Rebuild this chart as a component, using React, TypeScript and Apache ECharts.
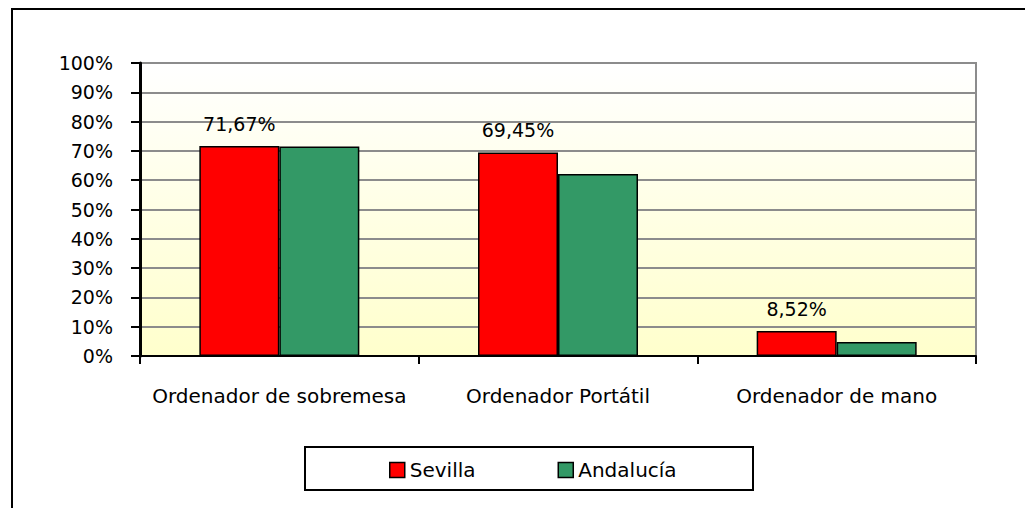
import React, { useEffect, useRef } from "react";
import * as echarts from "echarts";

const categories = ["Ordenador de sobremesa", "Ordenador Portátil", "Ordenador de mano"];
const sevilla = [71.67, 69.45, 8.52];
const andalucia = [71.5, 62.1, 4.8];
const seriesNames = ["Sevilla", "Andalucía"];

const FONT = "DejaVu Sans";

export default function App() {
  const ref = useRef<HTMLDivElement>(null);
  useEffect(() => {
    if (!ref.current) return;
    const chart = echarts.init(ref.current, null, { renderer: "svg" });
    chart.setOption({
      animation: false,
      backgroundColor: "#ffffff",
      textStyle: { fontFamily: FONT },
      graphic: [
        {
          type: "rect",
          shape: { x: 12, y: 9, width: 1030, height: 520 },
          style: { fill: "none", stroke: "#000", lineWidth: 2 },
          z: 10,
        },
        {
          type: "rect",
          shape: { x: 305, y: 447, width: 448, height: 43 },
          style: { fill: "none", stroke: "#000", lineWidth: 2 },
          z: 10,
        },
      ],
      grid: {
        left: 140,
        top: 63,
        width: 836,
        height: 293,
        show: true,
        borderColor: "#8c8c8c",
        borderWidth: 2,
        backgroundColor: {
          type: "linear",
          x: 0,
          y: 0,
          x2: 0,
          y2: 1,
          colorStops: [
            { offset: 0, color: "#ffffff" },
            { offset: 1, color: "#ffffcc" },
          ],
        },
      },
      legend: {
        data: seriesNames,
        left: 389,
        top: 460,
        padding: 0,
        itemWidth: 15,
        itemHeight: 15,
        itemGap: 82,
        textStyle: { fontFamily: FONT, fontSize: 20, color: "#000" },
        itemStyle: { borderColor: "#000", borderWidth: 1.5 },
        icon: "rect",
      },
      xAxis: {
        type: "category",
        data: categories,
        axisLine: { lineStyle: { color: "#000", width: 2 } },
        axisTick: { show: true, length: 8, lineStyle: { color: "#000", width: 2 } },
        axisLabel: { interval: 0, fontFamily: FONT, fontSize: 20, color: "#000", margin: 30 },
        splitLine: { show: false },
      },
      yAxis: {
        type: "value",
        min: 0,
        max: 100,
        interval: 10,
        axisLine: { show: true, lineStyle: { color: "#000", width: 3 } },
        axisTick: { show: true, length: 9, lineStyle: { color: "#000", width: 2 } },
        axisLabel: { fontFamily: FONT, fontSize: 19, color: "#000", margin: 27, formatter: "{value}%" },
        splitLine: { show: true, lineStyle: { color: "#8c8c8c", width: 2 } },
      },
      series: [
        {
          name: seriesNames[0],
          type: "bar",
          data: sevilla,
          barWidth: 80,
          barGap: "0%",
          itemStyle: { color: "#ff0000", borderColor: "#000", borderWidth: 1.5 },
          label: {
            show: true,
            position: "top",
            distance: 13,
            fontFamily: FONT,
            fontSize: 19,
            color: "#000",
            formatter: (p: any) => p.value.toFixed(2).replace(".", ",") + "%",
          },
        },
        {
          name: seriesNames[1],
          type: "bar",
          data: andalucia,
          barWidth: 80,
          barGap: "0%",
          itemStyle: { color: "#339966", borderColor: "#000", borderWidth: 1.5 },
        },
      ],
    });
    return () => chart.dispose();
  }, []);
  return (
    <div
      ref={ref}
      style={{ position: "absolute", left: 0, top: 0, width: 1025, height: 508 }}
    />
  );
}
